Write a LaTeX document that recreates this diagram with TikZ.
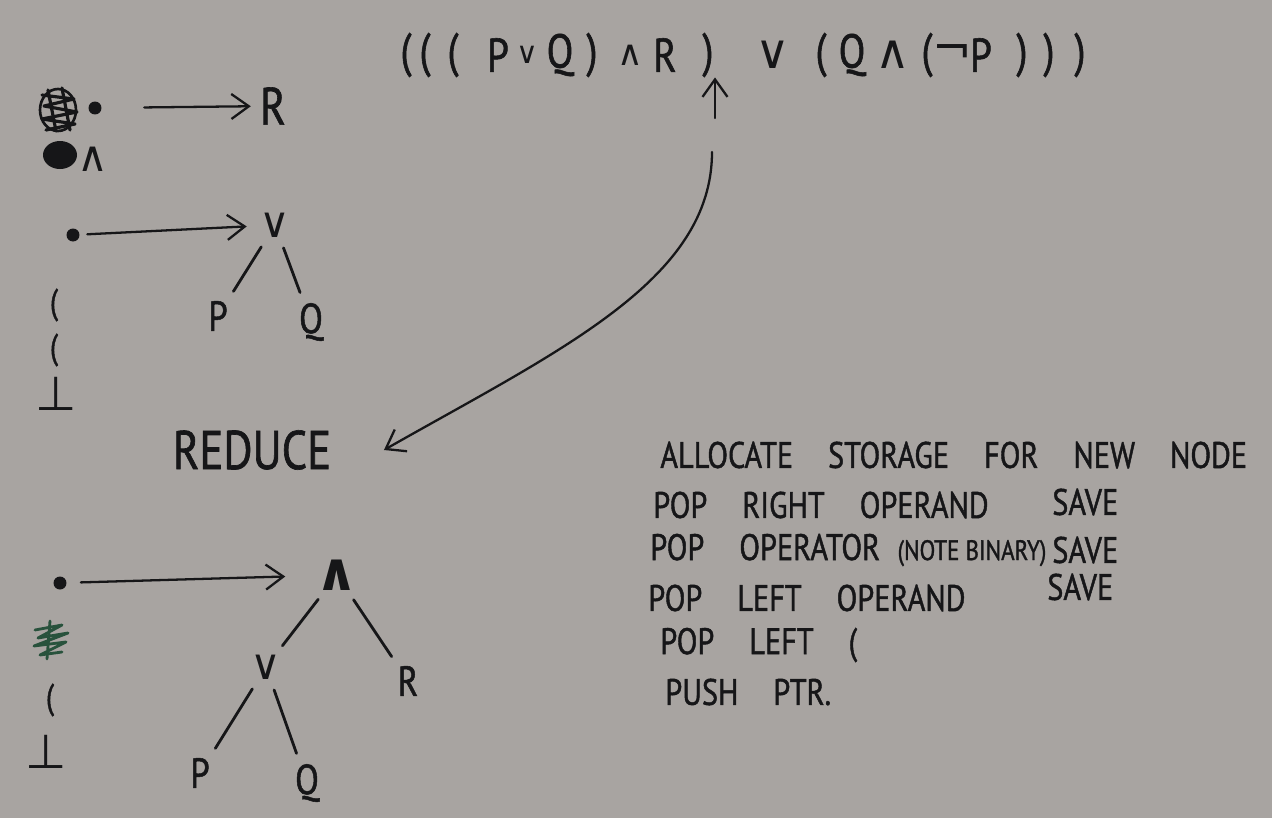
\documentclass[tikz,border=0pt]{standalone}
\usepackage{fontspec}
\setmainfont{PT Sans}
\newfontfamily\hand[FakeStretch=0.82, FakeBold=1.2]{PT Sans}
\newfontfamily\symb{DejaVu Sans}
\usetikzlibrary{arrows.meta}
\definecolor{cBoard}{RGB}{168,164,161}
\definecolor{cInk}{RGB}{22,22,24}
\definecolor{cMarker}{RGB}{40,82,60}
\newcommand{\wgap}{\hspace{0.7cm}}
\newcommand{\symor}{{\symb ∨}}
\newcommand{\symand}{{\symb ∧}}
\newcommand{\symnot}{{\symb ¬}}
\newcommand{\symbot}{{\symb ⊥}}
\tikzset{
    glyph/.style    ={inner sep=0pt, text=cInk, font=\hand\fontsize{24}{24}\selectfont},
    bigglyph/.style ={glyph, font=\hand\fontsize{27}{27}\selectfont},
    stackitem/.style={glyph, font=\hand\fontsize{20}{20}\selectfont},
    note/.style     ={inner sep=0pt, anchor=west, text=cInk, font=\hand\fontsize{21}{21}\selectfont},
    ptr/.style      ={circle, fill=cInk, inner sep=0pt, minimum size=0.26cm},
    pen/.style      ={draw=cInk, line width=1.3pt, line cap=round, line join=round},
    penarrow/.style ={pen, -{Straight Barb[length=3.5mm, width=5mm]}},
    branch/.style   ={pen, line width=1.6pt, shorten <=0.22cm, shorten >=0.22cm},
}

\begin{document}
\begin{tikzpicture}[x=0.02cm, y=-0.02cm]
    % board
    \fill[cBoard] (0,0) rectangle (1272,818);
    \useasboundingbox (0,0) rectangle (1272,818);

    % expression
    \foreach \px/\ch [count=\i] in {406/(, 425/(, 453/(, 498/P, 527/{\symb\fontsize{17}{17}\selectfont ∨}, 560/Q, 592/), 630/{\symb\fontsize{20}{20}\selectfont ∧}, 665/R, 708/),
                                    773/\symor, 821/(, 852/Q, 893/\symand, 927/(, 952/\symnot, 981/P, 1022/), 1049/), 1080/)}
        \node[bigglyph] (f\i) at (\px,55) {\ch};
    \coordinate (upTail) at (715,118);
    \draw[penarrow] (upTail) -- (upTail |- f10.south);

    % first stack
    \draw[pen, line width=1.5pt] (58,110) ellipse [x radius=18, y radius=21];
    \draw[pen, line width=1.8pt] (42,95) -- (74,99) -- (44,106) -- (77,112) -- (42,119) -- (75,124) -- (46,130)
        (48,90) -- (56,131) (62,88) -- (70,130);
    \fill[cInk] (60,155) ellipse [x radius=17, y radius=14];
    \node[ptr] (dotA) at (95,108) {};
    \node[glyph, font=\hand\fontsize{30}{30}\selectfont] (rA) at (273,106) {R};
    \draw[penarrow, shorten <=0.85cm, shorten >=0.18cm] (dotA) -- (rA);
    \node[glyph] (andA) at (93,159) {\symand};

    % second stack
    \node[ptr] (dotB) at (73,235) {};
    \node[glyph] (orB) at (275,225) {\symor};
    \draw[penarrow, shorten <=0.15cm, shorten >=0.25cm] (dotB) -- (orB);
    \node[glyph] (pB) at (218,316) {P};
    \node[glyph] (qB) at (311,322) {Q};
    \draw[branch] (orB) -- (pB);
    \draw[branch] (orB) -- (qB);
    \node[stackitem] (parB1) at (54,305) {(};
    \node[stackitem] (parB2) at (54,350) {(};
    \node[glyph, font=\symb\fontsize{27}{27}\selectfont] (botB) at (56,394) {⊥};

    \node[glyph, font=\hand\fontsize{31}{31}\selectfont] (reduce) at (252,450) {REDUCE};
    \coordinate (curveTail) at (712,152);
    \draw[penarrow] (curveTail) .. controls (712,280) and (560,350) .. ([xshift=1.05cm]reduce.east);

    % third stack
    \node[ptr] (dotC) at (60,583) {};
    \node[glyph, font=\symb\bfseries\fontsize{30}{30}\selectfont] (andC) at (337,575) {∧};
    \draw[penarrow, shorten <=0.28cm, shorten >=0.6cm] (dotC) -- (andC);
    \node[glyph] (orC) at (266,667) {\symor};
    \node[glyph] (rC) at (408,681) {R};
    \node[glyph] (pC) at (200,773) {P};
    \node[glyph] (qC) at (307,783) {Q};
    \draw[branch] (andC) -- (orC);
    \draw[branch] (andC) -- (rC);
    \draw[branch] (orC) -- (pC);
    \draw[branch] (orC) -- (qC);
    \draw[cMarker, line width=1.6pt, line cap=round, line join=round] (35,630) -- (62,625) -- (38,638) -- (68,633) -- (34,646) -- (66,642) -- (40,655) -- (62,652)
        (50,621) -- (47,659);
    \node[stackitem] (parC) at (50,700) {(};
    \node[glyph, font=\symb\fontsize{27}{27}\selectfont] (botC) at (46,752) {⊥};

    % steps
    \node[note] (lineA) at (660,455) {ALLOCATE\wgap STORAGE\wgap FOR\wgap NEW\wgap NODE};
    \node[note] (lineB) at (653,505) {POP\wgap RIGHT\wgap OPERAND};
    \node[note] (saveB) at (1052,502) {SAVE};
    \node[note] (lineC) at (650,550) {POP\wgap OPERATOR\hspace{0.35cm}{\fontsize{16}{16}\selectfont (NOTE BINARY)}};
    \node[note] (saveC) at (1052,550) {SAVE};
    \node[note] (lineD) at (648,598) {POP\wgap LEFT\wgap OPERAND};
    \node[note] (saveD) at (1047,587) {SAVE};
    \node[note] (lineE) at (660,645) {POP\wgap LEFT\wgap (};
    \node[note] (lineF) at (665,692) {PUSH\wgap PTR.};
\end{tikzpicture}
\end{document}
